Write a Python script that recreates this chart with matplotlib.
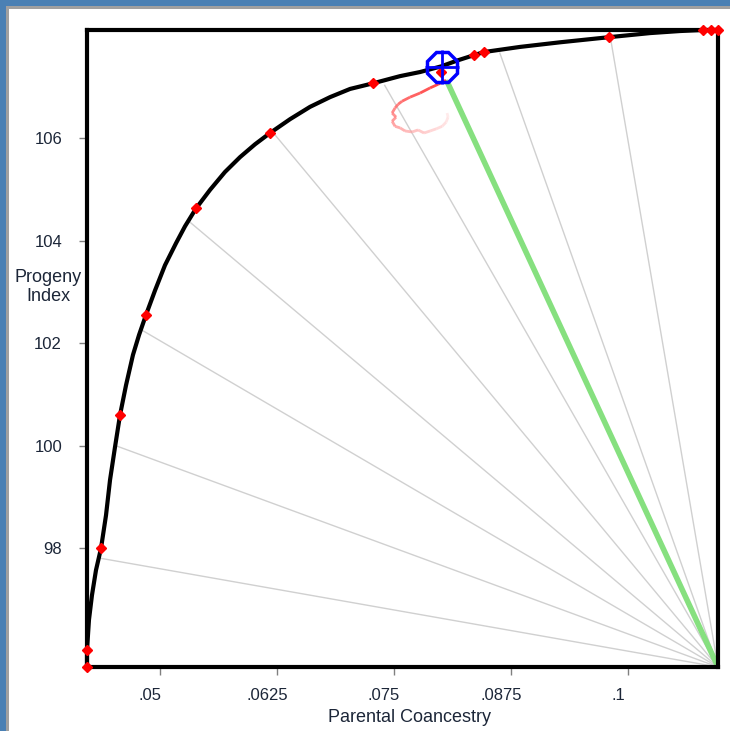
import numpy as np
import matplotlib
matplotlib.use("Agg")
import matplotlib.pyplot as plt
import matplotlib.transforms as mtransforms
from matplotlib.patches import Rectangle
from matplotlib.collections import LineCollection
from matplotlib.ticker import FuncFormatter

plt.rcParams['font.family'] = ['Liberation Sans', 'DejaVu Sans']

# frontier curve (parental coancestry, progeny index)
curve_x = [0.0422, 0.0422, 0.04241, 0.04273, 0.04316, 0.0437, 0.04423, 0.04466,
           0.04519, 0.04573, 0.04637, 0.04711, 0.04776, 0.0485, 0.04947, 0.05053,
           0.05171, 0.05267, 0.05385, 0.05534, 0.05694, 0.05855, 0.06015, 0.06175,
           0.06389, 0.06602, 0.06816, 0.0703, 0.07276, 0.07564, 0.07778, 0.08002,
           0.08184, 0.08355, 0.08461, 0.08846, 0.09273, 0.09797, 0.10235, 0.10555,
           0.10801, 0.1096]
curve_y = [95.68, 96.01, 96.60, 97.08, 97.57, 98.00, 98.64, 99.33,
           99.97, 100.60, 101.18, 101.77, 102.16, 102.55, 103.03, 103.52,
           103.95, 104.28, 104.63, 104.99, 105.34, 105.63, 105.88, 106.10,
           106.37, 106.61, 106.80, 106.96, 107.07, 107.21, 107.29, 107.40,
           107.52, 107.62, 107.68, 107.78, 107.87, 107.97, 108.05, 108.09,
           108.11, 108.11]

# red markers on the frontier
pts_x = [0.0422, 0.0422, 0.0437, 0.04573, 0.0485, 0.05385, 0.06175, 0.07276,
         0.0800, 0.08355, 0.08461, 0.09797, 0.1080, 0.1089, 0.1096]
pts_y = [95.68, 96.01, 98.00, 100.60, 102.55, 104.63, 106.10, 107.07,
         107.30, 107.62, 107.68, 107.97, 108.11, 108.11, 108.11]

# rays from the corner to the frontier
corner = (0.1096, 95.68)
ray_x = [0.0437, 0.0454, 0.0481, 0.0532, 0.0623, 0.0740, 0.0863, 0.0981]
ray_y = [97.80, 99.99, 102.25, 104.36, 106.06, 107.03, 107.66, 107.97]

# chosen solution
sel_x, sel_y = 0.0801, 107.38
green_end = (0.0807, 107.09)

# search trail (from the chosen point outward)
trail_x = [0.08055, 0.0797, 0.07885, 0.07778, 0.07671, 0.07585, 0.07543,
           0.07511, 0.07479, 0.07521, 0.07479, 0.07511, 0.07564, 0.07617,
           0.07692, 0.07756, 0.0782, 0.07885, 0.07949, 0.08013, 0.08055,
           0.08077, 0.08066]
trail_y = [107.13, 107.05, 106.98, 106.88, 106.80, 106.72, 106.66,
           106.59, 106.49, 106.41, 106.33, 106.23, 106.20, 106.14,
           106.12, 106.16, 106.10, 106.14, 106.18, 106.23, 106.31,
           106.41, 106.49]

x_ticks = [0.05, 0.0625, 0.075, 0.0875, 0.1]
y_ticks = [98, 100, 102, 104, 106]

text_col = '#1c2638'

fig = plt.figure(figsize=(7.3, 7.31), dpi=100)
# window frame
fig.patches.append(Rectangle((0, 0), 6 / 730, 1, transform=fig.transFigure,
                             facecolor='#4a80b4', edgecolor='none'))
fig.patches.append(Rectangle((6 / 730, 0), 3 / 730, 1, transform=fig.transFigure,
                             facecolor='#a0a0a0', edgecolor='none'))
fig.patches.append(Rectangle((0, 1 - 6 / 731), 1, 6 / 731, transform=fig.transFigure,
                             facecolor='#4a80b4', edgecolor='none'))
fig.patches.append(Rectangle((6 / 730, 1 - 9 / 731), 1, 3 / 731, transform=fig.transFigure,
                             facecolor='#a0a0a0', edgecolor='none'))

ax = fig.add_axes([87 / 730, 1 - 667 / 731, 631 / 730, 637 / 731])
ax.set_xlim(0.0422, 0.1096)
ax.set_ylim(95.68, 108.11)

for rx, ry in zip(ray_x, ray_y):
    ax.plot([corner[0], rx], [corner[1], ry], color='#d0d0d0', lw=1, zorder=1)

ax.plot([corner[0], green_end[0]], [corner[1], green_end[1]],
        color='#86e07f', lw=4, solid_capstyle='round', zorder=2)

pts = np.column_stack([trail_x, trail_y])
segs = np.stack([pts[:-1], pts[1:]], axis=1)
n = len(segs)
cols = []
for i in range(n):
    t = i / (n - 1)
    cols.append((1.0, 0.25 + 0.6 * t, 0.25 + 0.6 * t, 1.0 - 0.5 * t))
ax.add_collection(LineCollection(segs, colors=cols, linewidths=2, zorder=3))

ax.plot(curve_x, curve_y, color='black', lw=3, zorder=4, clip_on=False)
ax.plot(pts_x, pts_y, 'D', color='red', ms=5, mec='red', zorder=5, clip_on=False)

ax.plot(sel_x, sel_y, '8', ms=24, mfc='none', mec='blue', mew=2.5, zorder=6)
ax.plot(sel_x, sel_y, '+', ms=24, color='blue', mew=2, zorder=6)

for s in ax.spines.values():
    s.set_linewidth(3)
    s.set_color('black')

ax.set_xticks(x_ticks)
ax.set_yticks(y_ticks)
ax.xaxis.set_major_formatter(FuncFormatter(lambda v, p: ('%g' % v).lstrip('0')))
ax.tick_params(direction='out', length=6, width=1, color='#808080',
               labelsize=12, labelcolor=text_col)
ax.tick_params(axis='x', pad=9)
ax.tick_params(axis='y', pad=12)

# x tick labels sit a bit left of their ticks
shift = mtransforms.ScaledTranslation(-10 / 100, 0, fig.dpi_scale_trans)
for lab in ax.get_xticklabels():
    lab.set_transform(lab.get_transform() + shift)

fig.text(410 / 730, 1 - 718 / 731, 'Parental Coancestry', ha='center', va='center',
         fontsize=13, color=text_col)
fig.text(48 / 730, 1 - 287 / 731, 'Progeny\nIndex', ha='center', va='center',
         fontsize=13, color=text_col, linespacing=1.2)

fig.savefig('out.png', dpi=100)
